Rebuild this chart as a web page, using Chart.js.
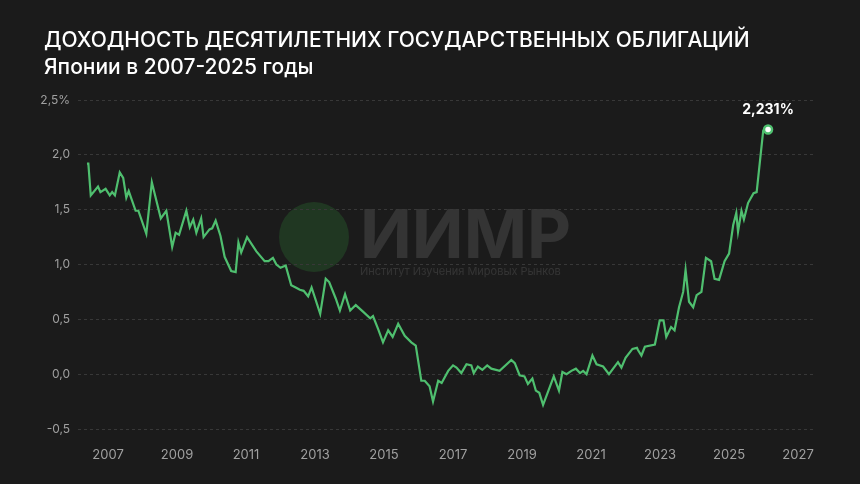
<!DOCTYPE html>
<html><head><meta charset="utf-8">
<script src="https://cdn.jsdelivr.net/npm/chart.js@4"></script>
<style>html,body{margin:0;background:#1b1b1b}#wrap{width:860px;height:484px}</style>
</head><body><div id="wrap"><canvas id="c"></canvas></div>
<script>
// years (decimal) and 10y JGB yield, %
const years = [2006.39,2006.43,2006.5,2006.71,2006.78,2006.93,2007.05,2007.12,2007.2,2007.34,2007.44,2007.53,2007.6,2007.8,2007.88,2008.11,2008.27,2008.53,2008.69,2008.86,2008.96,2009.06,2009.27,2009.37,2009.47,2009.56,2009.7,2009.77,2009.94,2010.02,2010.12,2010.26,2010.38,2010.57,2010.7,2010.78,2010.86,2011.03,2011.3,2011.54,2011.65,2011.78,2011.88,2012.0,2012.15,2012.31,2012.44,2012.56,2012.67,2012.8,2012.9,2013.15,2013.31,2013.41,2013.6,2013.72,2013.87,2014.02,2014.18,2014.39,2014.6,2014.68,2014.83,2014.97,2015.12,2015.25,2015.41,2015.6,2015.79,2015.92,2016.08,2016.18,2016.32,2016.42,2016.57,2016.67,2016.86,2017.0,2017.1,2017.24,2017.39,2017.53,2017.6,2017.72,2017.85,2017.99,2018.11,2018.35,2018.69,2018.79,2018.93,2019.07,2019.17,2019.3,2019.4,2019.5,2019.61,2019.8,2019.92,2020.07,2020.17,2020.29,2020.43,2020.56,2020.68,2020.77,2020.87,2021.04,2021.16,2021.35,2021.52,2021.78,2021.88,2022.0,2022.2,2022.33,2022.36,2022.46,2022.56,2022.85,2022.99,2023.1,2023.18,2023.32,2023.42,2023.55,2023.67,2023.74,2023.84,2023.96,2024.06,2024.2,2024.33,2024.48,2024.58,2024.71,2024.87,2025.0,2025.12,2025.21,2025.26,2025.36,2025.43,2025.55,2025.71,2025.8,2025.99,2026.13];
const yields = [1.92,1.92,1.63,1.71,1.66,1.69,1.63,1.66,1.63,1.84,1.79,1.61,1.67,1.49,1.49,1.28,1.75,1.42,1.49,1.16,1.29,1.27,1.49,1.34,1.41,1.29,1.42,1.25,1.32,1.33,1.40,1.26,1.07,0.94,0.93,1.20,1.11,1.25,1.12,1.03,1.03,1.06,1.00,0.97,0.99,0.81,0.79,0.77,0.76,0.71,0.79,0.55,0.87,0.84,0.69,0.58,0.73,0.58,0.63,0.57,0.51,0.53,0.41,0.29,0.40,0.34,0.46,0.35,0.29,0.26,-0.06,-0.06,-0.11,-0.25,-0.06,-0.08,0.03,0.08,0.06,0.01,0.09,0.08,0.01,0.07,0.04,0.08,0.05,0.03,0.13,0.10,-0.01,-0.02,-0.09,-0.04,-0.15,-0.17,-0.28,-0.12,-0.02,-0.15,0.02,0.00,0.03,0.05,0.01,0.03,0.00,0.17,0.09,0.07,0.00,0.11,0.06,0.15,0.23,0.24,0.22,0.17,0.25,0.27,0.49,0.49,0.34,0.43,0.40,0.61,0.75,0.95,0.66,0.61,0.72,0.75,1.06,1.03,0.87,0.86,1.03,1.10,1.36,1.47,1.30,1.49,1.41,1.56,1.65,1.66,2.22,2.231];
const yTicks = [-0.5,0,0.5,1.0,1.5,2.0,2.5];
const xTicks = [2007,2009,2011,2013,2015,2017,2019,2021,2023,2025,2027];
const titleLines = ['Доходность десятилетних государственных облигаций','Японии в 2007-2025 годы'];

const FONT = 'Inter, "Noto Sans", sans-serif';
const GREEN = '#4fbf6f';

const decor = {
  id: 'decor',
  beforeDraw(chart) {
    const c = chart.ctx;
    c.save();
    c.fillStyle = '#1b1b1b';
    c.fillRect(0, 0, chart.width, chart.height);
    // watermark
    c.fillStyle = 'rgba(40,90,45,0.45)';
    c.beginPath(); c.arc(314, 237, 35, 0, Math.PI * 2); c.fill();
    c.fillStyle = 'rgba(255,255,255,0.11)';
    c.font = 'bold 68px ' + FONT;
    c.textBaseline = 'alphabetic';
    c.fillText('ИИМР', 360, 258);
    c.font = '11px ' + FONT;
    c.fillText('Институт Изучения Мировых Рынков', 360, 275);
    // title
    c.fillStyle = '#ffffff';
    c.font = '500 21px ' + FONT;
    c.textBaseline = 'middle';
    c.fillText(titleLines[0].toUpperCase(), 44, 41);
    c.fillText(titleLines[1], 44, 68);
    c.restore();
  },
  afterDatasetsDraw(chart) {
    const meta = chart.getDatasetMeta(0);
    const p = meta.data[meta.data.length - 1];
    const c = chart.ctx;
    c.save();
    c.fillStyle = '#ffffff';
    c.font = 'bold 14px ' + FONT;
    c.textAlign = 'center';
    c.textBaseline = 'middle';
    c.fillText(yields[yields.length - 1].toFixed(3).replace('.', ',') + '%', p.x, p.y - 20);
    c.restore();
  }
};

new Chart(document.getElementById('c'), {
  type: 'line',
  data: {
    datasets: [{
      data: years.map((x, i) => ({ x, y: yields[i] })),
      borderColor: GREEN,
      borderWidth: 2.2,
      tension: 0,
      pointRadius: years.map((_, i) => i === years.length - 1 ? 4 : 0),
      pointBackgroundColor: '#ffffff',
      pointBorderColor: GREEN,
      pointBorderWidth: 2.5
    }]
  },
  options: {
    responsive: true,
    maintainAspectRatio: false,
    animation: false,
    layout: { padding: { top: 100, right: 44, left: 0, bottom: 0 } },
    plugins: { legend: { display: false }, tooltip: { enabled: false } },
    scales: {
      x: {
        type: 'linear', min: 2006.13, max: 2027.52,
        afterBuildTicks: s => { s.ticks = xTicks.map(v => ({ value: v })); },
        afterFit: s => { s.height = 55; },
        grid: { display: false },
        border: { display: false },
        ticks: { color: '#a0a0a0', font: { family: FONT, size: 13 }, padding: 10, callback: v => String(v), maxRotation: 0 }
      },
      y: {
        min: -0.5, max: 2.5,
        afterBuildTicks: s => { s.ticks = yTicks.map(v => ({ value: v })); },
        afterFit: s => { s.width = 78; },
        grid: { color: '#383838', borderDash: [3, 3], drawTicks: false },
        border: { display: false, dash: [3, 3] },
        ticks: {
          color: '#a0a0a0', font: { family: FONT, size: 12 }, padding: 8,
          callback: v => v.toFixed(1).replace('.', ',') + (v === 2.5 ? '%' : '')
        }
      }
    }
  },
  plugins: [decor]
});
</script></body></html>
